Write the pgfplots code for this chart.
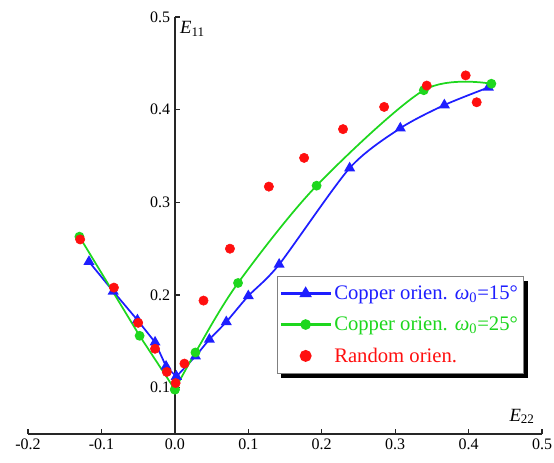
\documentclass[border=0pt]{standalone}
\usepackage{pgfplots}
\pgfplotsset{compat=1.18}
\usepackage{fontspec}
\setmainfont{Liberation Serif}
\usetikzlibrary{backgrounds}
\definecolor{cblue}{RGB}{30,30,255}
\definecolor{cgreen}{RGB}{30,215,30}
\definecolor{cred}{RGB}{255,15,15}
\begin{document}
\begin{tikzpicture}
\begin{axis}[
  scale only axis, width=385.5pt, height=312.75pt,
  xmin=-0.2, xmax=0.5, ymin=0.05, ymax=0.5,
  axis x line*=bottom, axis y line*=middle,
  axis line style={line width=1pt, black!85},
  xtick={-0.2,-0.1,0,0.1,0.2,0.3,0.4,0.5},
  ytick={0.1,0.2,0.3,0.4,0.5},
  minor tick num=0,
  tick align=inside,
  major tick length=4pt,
  tick style={line width=1pt, black!85},
  /pgf/number format/assume math mode=true,
  tick label style={font=\fontsize{12}{14}\selectfont},
  xticklabel style={/pgf/number format/.cd, fixed, fixed zerofill, precision=1},
  yticklabel style={/pgf/number format/.cd, fixed, fixed zerofill, precision=1},
  xlabel={\textit{E}\textsubscript{22}},
  xlabel style={at={(rel axis cs:1,0)}, anchor=south east, font=\fontsize{14}{16}\selectfont, yshift=4pt, xshift=-2pt},
  clip=false,
  legend style={name=leg, at={(rel axis cs:0.484,0.379)}, anchor=north west, draw=gray, fill=white,
    font=\fontsize{15.5}{18}\selectfont, row sep=7.5pt, inner xsep=2pt, inner ysep=5pt},
  legend cell align=left,
  legend image code/.code={\draw[line width=1.9pt, mark repeat=2,mark phase=2] plot coordinates {(0cm,0cm) (0.65cm,0cm) (1.3cm,0cm)};},
]
% blue, left part (straight segments)
\addplot[forget plot, cblue, line width=1.3pt, mark=triangle*, mark size=3.5pt, mark options={fill=cblue, draw=cblue}] coordinates {
(-0.117,0.236) (-0.084,0.204) (-0.051,0.173) (-0.027,0.149) (-0.012,0.123) (0.002,0.112)};
\addplot[cblue, line width=1.3pt, smooth, tension=0.45, mark=triangle*, mark size=3.5pt, mark options={fill=cblue, draw=cblue}] coordinates {
(0.002,0.112) (0.028,0.134) (0.047,0.152) (0.070,0.171) (0.100,0.199) (0.142,0.233) (0.238,0.337)
(0.307,0.380) (0.367,0.405) (0.427,0.424)};
\addlegendentry{\textcolor{cblue}{Copper orien. \textit{ω}\textsubscript{0}=15°}}
% green, left part
\addplot[forget plot, cgreen, line width=1.3pt, mark=*, mark size=3pt, mark options={fill=cgreen, draw=cgreen}] coordinates {
(-0.130,0.263) (-0.048,0.156) (0.000,0.098)};
\addplot[cgreen, line width=1.3pt, smooth, tension=0.5, mark=*, mark size=3pt, mark options={fill=cgreen, draw=cgreen}] coordinates {
(0.000,0.098) (0.028,0.138) (0.086,0.213) (0.193,0.318)
(0.339,0.421) (0.431,0.428)};
\addlegendentry{\textcolor{cgreen}{Copper orien. \textit{ω}\textsubscript{0}=25°}}
\addplot[only marks, mark=*, mark size=3.5pt, cred, mark options={fill=cred, draw=cred}] coordinates {
(-0.129,0.260) (-0.083,0.208) (-0.050,0.170) (-0.027,0.142) (-0.011,0.117) (0.001,0.105)
(0.013,0.126) (0.039,0.194) (0.075,0.250) (0.128,0.317) (0.176,0.348) (0.229,0.379)
(0.285,0.403) (0.343,0.426) (0.396,0.437) (0.411,0.408)};
\addlegendentry{\textcolor{cred}{Random orien.}}
\node[anchor=north west, font=\fontsize{14}{16}\selectfont, inner sep=1pt] at (axis cs:0.005,0.497) {\textit{E}\textsubscript{11}};
\coordinate (bbl) at (rel axis cs:-0.0545,-0.0671);
\coordinate (btr) at (rel axis cs:1.0233,1.0408);
\end{axis}
\begin{scope}[on background layer]
\fill[black] ([xshift=3.5pt,yshift=-3.5pt]leg.south west) rectangle ([xshift=3.5pt,yshift=-3.5pt]leg.north east);
\end{scope}
\pgfresetboundingbox
\path[use as bounding box] (bbl) rectangle (btr);
\end{tikzpicture}
\end{document}
